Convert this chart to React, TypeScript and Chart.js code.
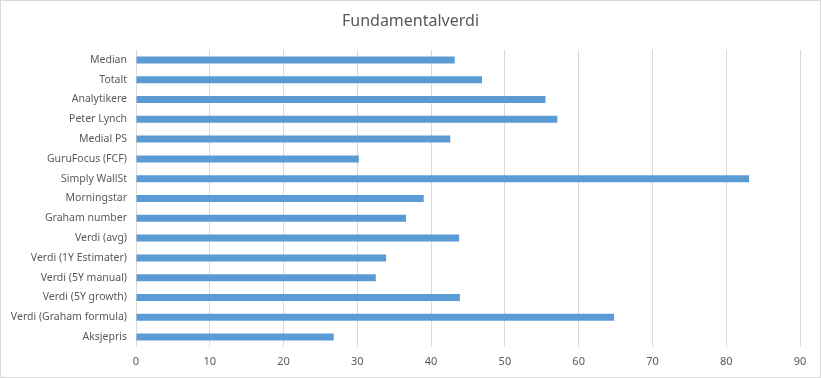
import React, { useEffect, useRef } from "react";
import { Chart, registerables } from "chart.js";

Chart.register(...registerables);

const categories = [
  "Median",
  "Totalt",
  "Analytikere",
  "Peter Lynch",
  "Medial PS",
  "GuruFocus (FCF)",
  "Simply WallSt",
  "Morningstar",
  "Graham number",
  "Verdi (avg)",
  "Verdi (1Y Estimater)",
  "Verdi (5Y manual)",
  "Verdi (5Y growth)",
  "Verdi (Graham formula)",
  "Aksjepris",
];

const values = [43.2, 46.9, 55.5, 57.1, 42.6, 30.2, 83.1, 39.0, 36.6, 43.8, 33.9, 32.5, 43.9, 64.8, 26.8];

const xTicks = { min: 0, max: 90, step: 10 };

const titleText = "Fundamentalverdi";

const font = "'Noto Sans', sans-serif";

const decorPlugin = {
  id: "decor",
  beforeDraw(chart: any) {
    const ctx = chart.ctx;
    ctx.save();
    ctx.fillStyle = "#ffffff";
    ctx.fillRect(0, 0, chart.width, chart.height);
    ctx.strokeStyle = "#d9d9d9";
    ctx.lineWidth = 1;
    ctx.strokeRect(0.5, 0.5, chart.width - 1, chart.height - 1);
    ctx.fillStyle = "#595959";
    ctx.font = `16px ${font}`;
    ctx.textAlign = "center";
    ctx.textBaseline = "middle";
    ctx.fillText(titleText, chart.width / 2, 21);
    ctx.restore();
  },
};

export default function App() {
  const ref = useRef<HTMLCanvasElement | null>(null);

  useEffect(() => {
    document.body.style.margin = "0";
    const canvas = ref.current;
    if (!canvas) return;
    const chart = new Chart(canvas, {
      type: "bar",
      data: {
        labels: categories,
        datasets: [
          {
            data: values,
            backgroundColor: "#5b9bd5",
            borderWidth: 0,
            categoryPercentage: 1,
            barPercentage: 0.355,
          },
        ],
      },
      options: {
        indexAxis: "y",
        animation: false,
        responsive: false,
        maintainAspectRatio: false,
        layout: { padding: { left: 0, right: 21, top: 50, bottom: 0 } },
        plugins: {
          legend: { display: false },
          tooltip: { enabled: false },
          title: { display: false },
        },
        scales: {
          x: {
            type: "linear",
            min: xTicks.min,
            max: xTicks.max,
            ticks: {
              stepSize: xTicks.step,
              color: "#595959",
              font: { family: font, size: 11 },
              padding: 8,
            },
            grid: { color: "#d9d9d9", lineWidth: 1, drawTicks: false },
            border: { display: false },
            afterFit(scale: any) {
              scale.height = 31;
            },
          },
          y: {
            ticks: {
              color: "#595959",
              font: { family: font, size: 10.5 },
              padding: 9,
              autoSkip: false,
            },
            grid: { display: false, drawTicks: false },
            border: { display: false },
            afterFit(scale: any) {
              scale.width = 136;
            },
          },
        },
      },
      plugins: [decorPlugin],
    });
    return () => chart.destroy();
  }, []);

  return (
    <div style={{ width: 821, height: 378 }}>
      <canvas ref={ref} width={821} height={378} style={{ display: "block" }} />
    </div>
  );
}
